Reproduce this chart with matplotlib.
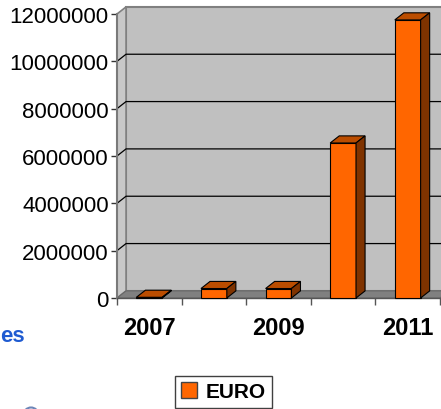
import matplotlib
matplotlib.use("Agg")
from matplotlib import pyplot as plt
from matplotlib.patches import Polygon, Rectangle, Patch, Ellipse

years = ["2007", "2008", "2009", "2010", "2011"]
euro = [30000, 400000, 400000, 6550000, 11750000]
y_ticks = [0, 2000000, 4000000, 6000000, 8000000, 10000000, 12000000]
x_labels = ["2007", "", "2009", "", "2011"]

W, H = 441, 410
plt.rcParams['font.family'] = ['Liberation Sans', 'DejaVu Sans']

fig = plt.figure(figsize=(W / 100, H / 100), dpi=100)
# plot area of the front plane, in pixels: x 117..440, y 15..299
ax = fig.add_axes([117 / W, (H - 299) / H, (440 - 117) / W, (299 - 15) / H])
ax.set_xlim(-0.5, len(years) - 0.5)
ax.set_ylim(0, 12000000)
ax.patch.set_visible(False)
for s in ax.spines.values():
    s.set_visible(False)

# depth of the 3d box, in data units
dx = 0.14
dy = 300000
x0, x1 = -0.5, len(years) - 0.5
ytop = y_ticks[-1]

# back wall
ax.add_patch(Rectangle((x0 + dx, dy), x1 - x0, ytop, facecolor='#c0c0c0',
                       edgecolor='#808080', lw=1.5, zorder=1, clip_on=False))
# left wall
ax.add_patch(Polygon([(x0, 0), (x0 + dx, dy), (x0 + dx, ytop + dy), (x0, ytop)],
                     facecolor='#c8c8c8', edgecolor='#808080', lw=1.2, zorder=1, clip_on=False))
# gridlines on back and side wall
for v in y_ticks[1:-1]:
    ax.plot([x0, x0 + dx, x1 + dx], [v, v + dy, v + dy], color='black', lw=0.9,
            zorder=2, clip_on=False)
# floor
ax.add_patch(Polygon([(x0, 0), (x1, 0), (x1 + dx, dy), (x0 + dx, dy)],
                     facecolor='#808080', edgecolor='#666666', lw=0.8, zorder=2, clip_on=False))

# axis lines and ticks
ax.plot([x0, x0], [0, ytop], color='#7a7a7a', lw=1.5, zorder=3, clip_on=False)
ax.plot([x0, x1], [0, 0], color='#555555', lw=1.0, zorder=3, clip_on=False)
ax.set_yticks(y_ticks)
ax.set_yticklabels([str(v) for v in y_ticks], fontsize=16)
ax.tick_params(axis='y', length=4, width=1, color='#333333', pad=2)
ax.set_xticks([x0 + i for i in range(len(years) + 1)])
ax.set_xticklabels([])
ax.tick_params(axis='x', which='major', length=5, width=1, color='#555555')
ax.set_xticks(range(len(years)), minor=True)
ax.set_xticklabels(x_labels, minor=True, fontsize=17, fontweight='bold')
ax.tick_params(axis='x', which='minor', length=0, pad=13)

# 3d bars
bw = 0.4
for i, v in enumerate(euro):
    l, r = i - bw / 2, i + bw / 2
    ax.add_patch(Rectangle((l, 0), bw, v, facecolor='#ff6600', edgecolor='black',
                           lw=0.8, zorder=5, clip_on=False))
    ax.add_patch(Polygon([(l, v), (r, v), (r + dx, v + dy), (l + dx, v + dy)],
                         facecolor='#bb4d00', edgecolor='black', lw=0.8, zorder=5, clip_on=False))
    ax.add_patch(Polygon([(r, 0), (r + dx, dy), (r + dx, v + dy), (r, v)],
                         facecolor='#7f3300', edgecolor='black', lw=0.8, zorder=5, clip_on=False))

# legend
fig.legend(handles=[Patch(facecolor='#ff6600', edgecolor='#444444', label='EURO')],
           loc='upper left', bbox_to_anchor=(175 / W, (H - 377) / H),
           prop={'weight': 'bold', 'size': 15}, frameon=True, fancybox=False,
           edgecolor='#404040', framealpha=1, borderaxespad=0, borderpad=0.3,
           handlelength=0.75, handleheight=0.75, handletextpad=0.4)

# bits of the slide around the chart
fig.text(0.5 / W, (H - 337) / H, "es", ha='left', va='center', color='#1f5bd1',
         fontsize=16, fontweight='bold')
fig.add_artist(Ellipse((31 / W, (H - 416) / H), 15 / W, 15 / H, facecolor='white',
                       edgecolor='#6d86b8', lw=1.5, transform=fig.transFigure))

fig.savefig('out.png', dpi=100)
